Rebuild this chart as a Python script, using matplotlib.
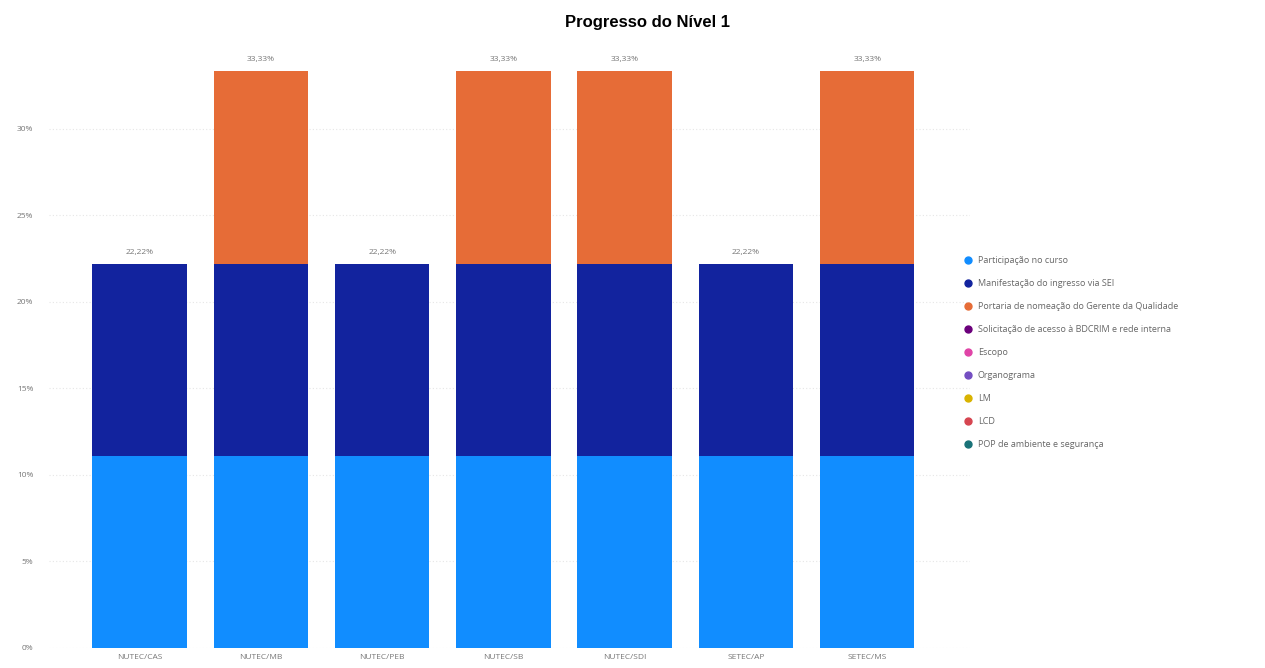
import matplotlib.pyplot as plt
from matplotlib.lines import Line2D
from matplotlib.ticker import PercentFormatter
import numpy as np

# unidades avaliadas
unidades = ["NUTEC/CAS", "NUTEC/MB", "NUTEC/PEB", "NUTEC/SB", "NUTEC/SDI", "SETEC/AP", "SETEC/MS"]

# itens do nível 1 (percentual de cada item concluído)
itens = [
    "Participação no curso",
    "Manifestação do ingresso via SEI",
    "Portaria de nomeação do Gerente da Qualidade",
    "Solicitação de acesso à BDCRIM e rede interna",
    "Escopo",
    "Organograma",
    "LM",
    "LCD",
    "POP de ambiente e segurança",
]
cores = ["#118DFF", "#12239E", "#E66C37", "#6B007B", "#E044A7",
         "#744EC2", "#D9B300", "#D64550", "#197278"]

participacao = [11.11, 11.11, 11.11, 11.11, 11.11, 11.11, 11.11]
manifestacao = [11.11, 11.11, 11.11, 11.11, 11.11, 11.11, 11.11]
portaria = [0, 11.11, 0, 11.11, 11.11, 0, 11.11]
solicitacao = [0, 0, 0, 0, 0, 0, 0]
escopo = [0, 0, 0, 0, 0, 0, 0]
organograma = [0, 0, 0, 0, 0, 0, 0]
lm = [0, 0, 0, 0, 0, 0, 0]
lcd = [0, 0, 0, 0, 0, 0, 0]
pop = [0, 0, 0, 0, 0, 0, 0]

series = [participacao, manifestacao, portaria, solicitacao, escopo,
          organograma, lm, lcd, pop]

plt.rcParams['font.family'] = ['Open Sans', 'DejaVu Sans']

fig = plt.figure(figsize=(12.65, 6.68), dpi=100)
ax = fig.add_axes([0.0385, 0.030, 0.7285, 0.891])

x = np.arange(len(unidades))
base = np.zeros(len(unidades))
for valores, cor in zip(series, cores):
    v = np.array(valores, dtype=float)
    ax.bar(x, v, bottom=base, width=0.78, color=cor, zorder=3)
    base += v

# total no topo de cada coluna
for xi, total in zip(x, base):
    ax.text(xi, total + 0.45, f"{total:.2f}%".replace(".", ","),
            ha="center", va="bottom", fontsize=6, color="#777777")

ax.set_xlim(-0.75, 6.85)
ax.set_ylim(0, 34.4)
ax.set_yticks(np.arange(0, 31, 5))
ax.yaxis.set_major_formatter(PercentFormatter(decimals=0))
ax.set_xticks(x)
ax.set_xticklabels(unidades)
ax.tick_params(axis="both", length=0, labelsize=6, labelcolor="#777777")
ax.tick_params(axis="y", pad=11)
ax.tick_params(axis="x", pad=4)
ax.grid(axis="y", color="#e6e6e6", linestyle=(0, (1, 2)), linewidth=0.8, zorder=0)
for s in ax.spines.values():
    s.set_visible(False)

fig.suptitle("Progresso do Nível 1", x=0.512, y=0.978, fontsize=12,
             fontweight="heavy", family=["Liberation Sans", "DejaVu Sans"])

handles = [Line2D([], [], marker="o", linestyle="", markersize=5,
                  markerfacecolor=c, markeredgecolor=c) for c in cores]
fig.legend(handles, itens, loc="upper left", bbox_to_anchor=(0.755, 0.622),
           frameon=False, fontsize=6.5, labelcolor="#666666",
           handletextpad=0.1, labelspacing=1.55, borderaxespad=0)

fig.savefig("out.png", dpi=100, facecolor="white")
